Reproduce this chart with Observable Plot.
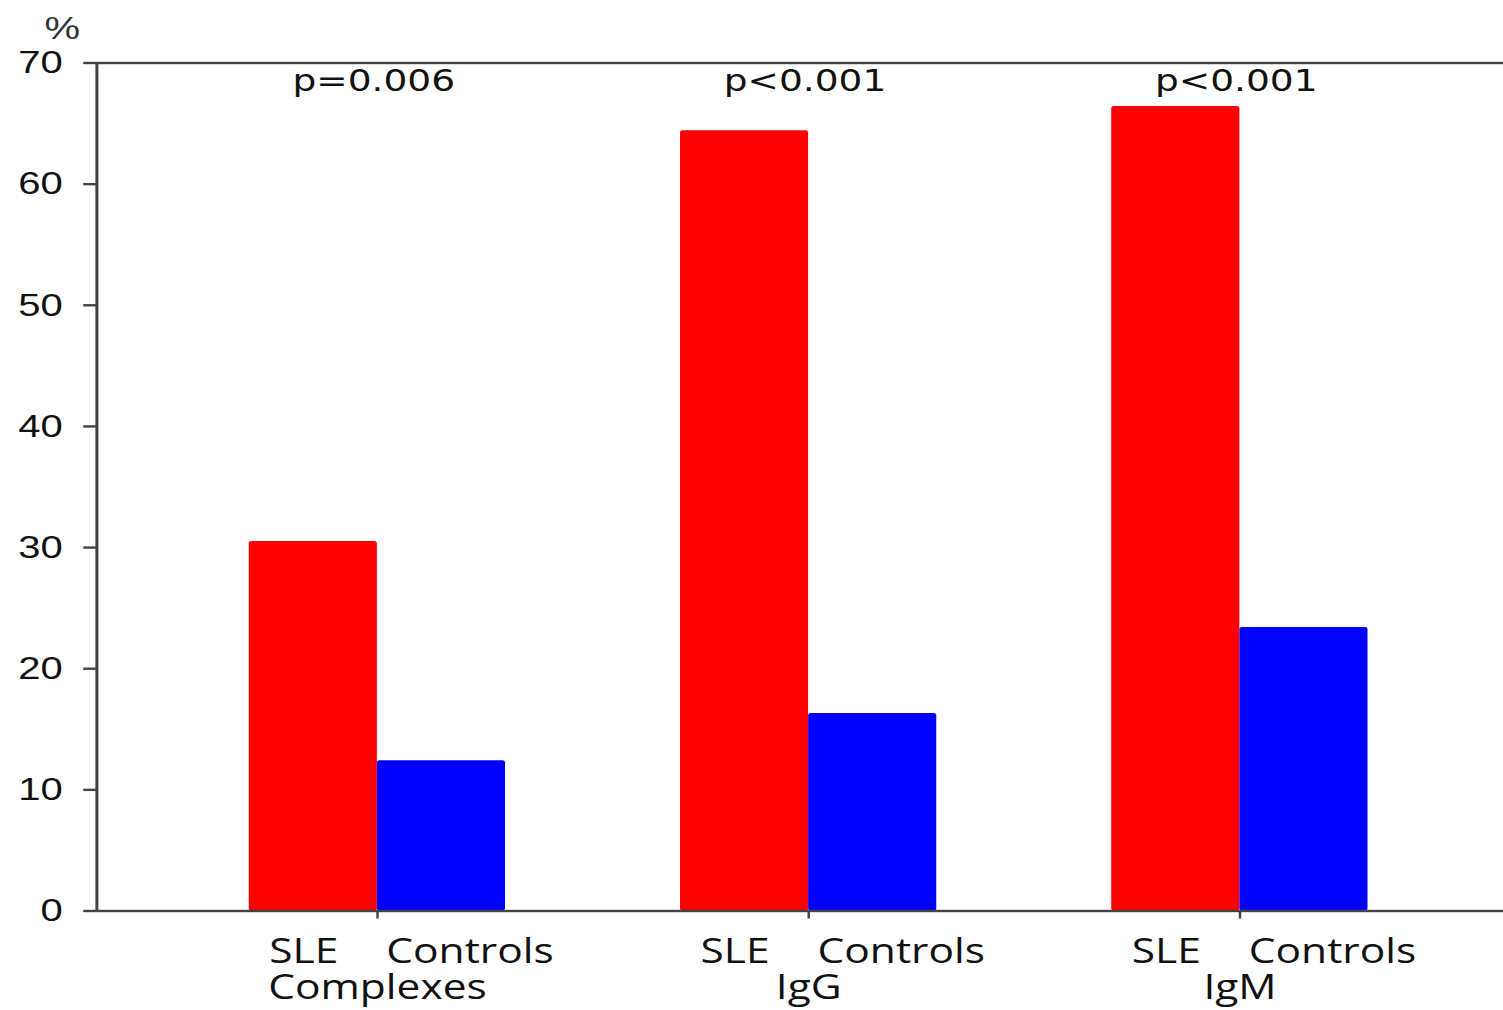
<!DOCTYPE html>
<html>
<head>
<meta charset="utf-8">
<script src="https://cdn.jsdelivr.net/npm/d3@7"></script>
<script src="https://cdn.jsdelivr.net/npm/@observablehq/plot@0.6"></script>
<style>
  html, body { margin: 0; padding: 0; background: #fff; }
  #chart svg { display: block; }
</style>
</head>
<body>
<div id="chart"></div>
<script>
// ---- data ----
const groups = ["Complexes", "IgG", "IgM"];
const seriesNames = ["SLE", "Controls"];
const sleValues = [30.5, 64.4, 66.4];
const controlValues = [12.4, 16.3, 23.4];
const pLabels = ["p=0.006", "p<0.001", "p<0.001"];
const yTicks = [0, 10, 20, 30, 40, 50, 60, 70];
const yUnit = "%";

// tables built from the arrays
const sleRows = groups.map((g, i) => ({group: g, series: seriesNames[0], value: sleValues[i]}));
const ctlRows = groups.map((g, i) => ({group: g, series: seriesNames[1], value: controlValues[i]}));
const pRows = groups.map((g, i) => ({group: g, label: pLabels[i]}));

// The reference is horizontally stretched by 1.25: draw at logical width, then stretch.
const STRETCH = 1.25;
const OUT_W = 1503, OUT_H = 1010;
const W = OUT_W / STRETCH;

const RED = "#ff0000", BLUE = "#0000ff", LINE = "#444", INK = "#111";
const LABEL_FONT = "Open Sans, sans-serif";

function build(half) {
  return Plot.plot({
    width: W,
    height: OUT_H,
    marginLeft: 77,
    marginRight: 0,
    marginTop: 62.5,
    marginBottom: 99.5,
    x: {type: "band", domain: groups, paddingInner: 0.4067, paddingOuter: 0.333, align: 0.528},
    y: {domain: [0, 70]},
    style: {fontFamily: "Liberation Sans, Arial, sans-serif", background: "#fff", color: INK},
    marks: [
      Plot.barY(sleRows, {x: "group", y: "value", fill: RED, insetLeft: 0, insetRight: half, rx: 2}),
      Plot.barY(ctlRows, {x: "group", y: "value", fill: BLUE, insetLeft: half, insetRight: 0, rx: 2}),
      Plot.frame({stroke: LINE, strokeWidth: 2.4, insetRight: -6}),
      Plot.axisY({ticks: yTicks, tickSize: 10.4, tickPadding: 16.8, fontSize: 32,
                  fontFamily: "Liberation Sans, Arial, sans-serif",
                  stroke: LINE, strokeWidth: 2.4, fill: INK, label: null}),
      Plot.axisX({tickSize: 8, tickFormat: () => "", stroke: LINE, strokeWidth: 2, label: null}),
      // unit label
      Plot.text([yUnit], {frameAnchor: "top-left", dx: -42, dy: -34.5, textAnchor: "start",
                 lineAnchor: "middle", fontSize: 32, fill: "#333",
                 fontFamily: "Liberation Sans, Arial, sans-serif"}),
      // p-values
      Plot.text(pRows, {x: "group", y: () => 70, text: "label", dy: 18, dx: -3,
                 lineAnchor: "middle", fontSize: 30, fill: INK,
                 fontFamily: "DejaVu Sans, Verdana, sans-serif"}),
      // series labels under the bars
      Plot.text(sleRows, {x: "group", y: () => 0, text: "series", dx: -59, dy: 41,
                 lineAnchor: "middle", fontSize: 34, fill: INK, fontFamily: LABEL_FONT}),
      Plot.text(ctlRows, {x: "group", y: () => 0, text: "series", dx: 74, dy: 41,
                 lineAnchor: "middle", fontSize: 34, fill: INK, fontFamily: LABEL_FONT}),
      // group labels
      Plot.text(groups, {x: d => d, y: () => 0, text: d => d, dy: 77,
                 lineAnchor: "middle", fontSize: 34, fill: INK, fontFamily: LABEL_FONT})
    ]
  });
}

// probe the band width so each series fills half of its group's band
const probe = build(0);
const bw = probe.scale("x").bandwidth;
const svg = build(bw / 2);

svg.setAttribute("width", OUT_W);
svg.setAttribute("height", OUT_H);
svg.setAttribute("preserveAspectRatio", "none");
svg.style.width = OUT_W + "px";
svg.style.height = OUT_H + "px";
svg.style.maxWidth = "none";
document.getElementById("chart").appendChild(svg);
</script>
</body>
</html>
